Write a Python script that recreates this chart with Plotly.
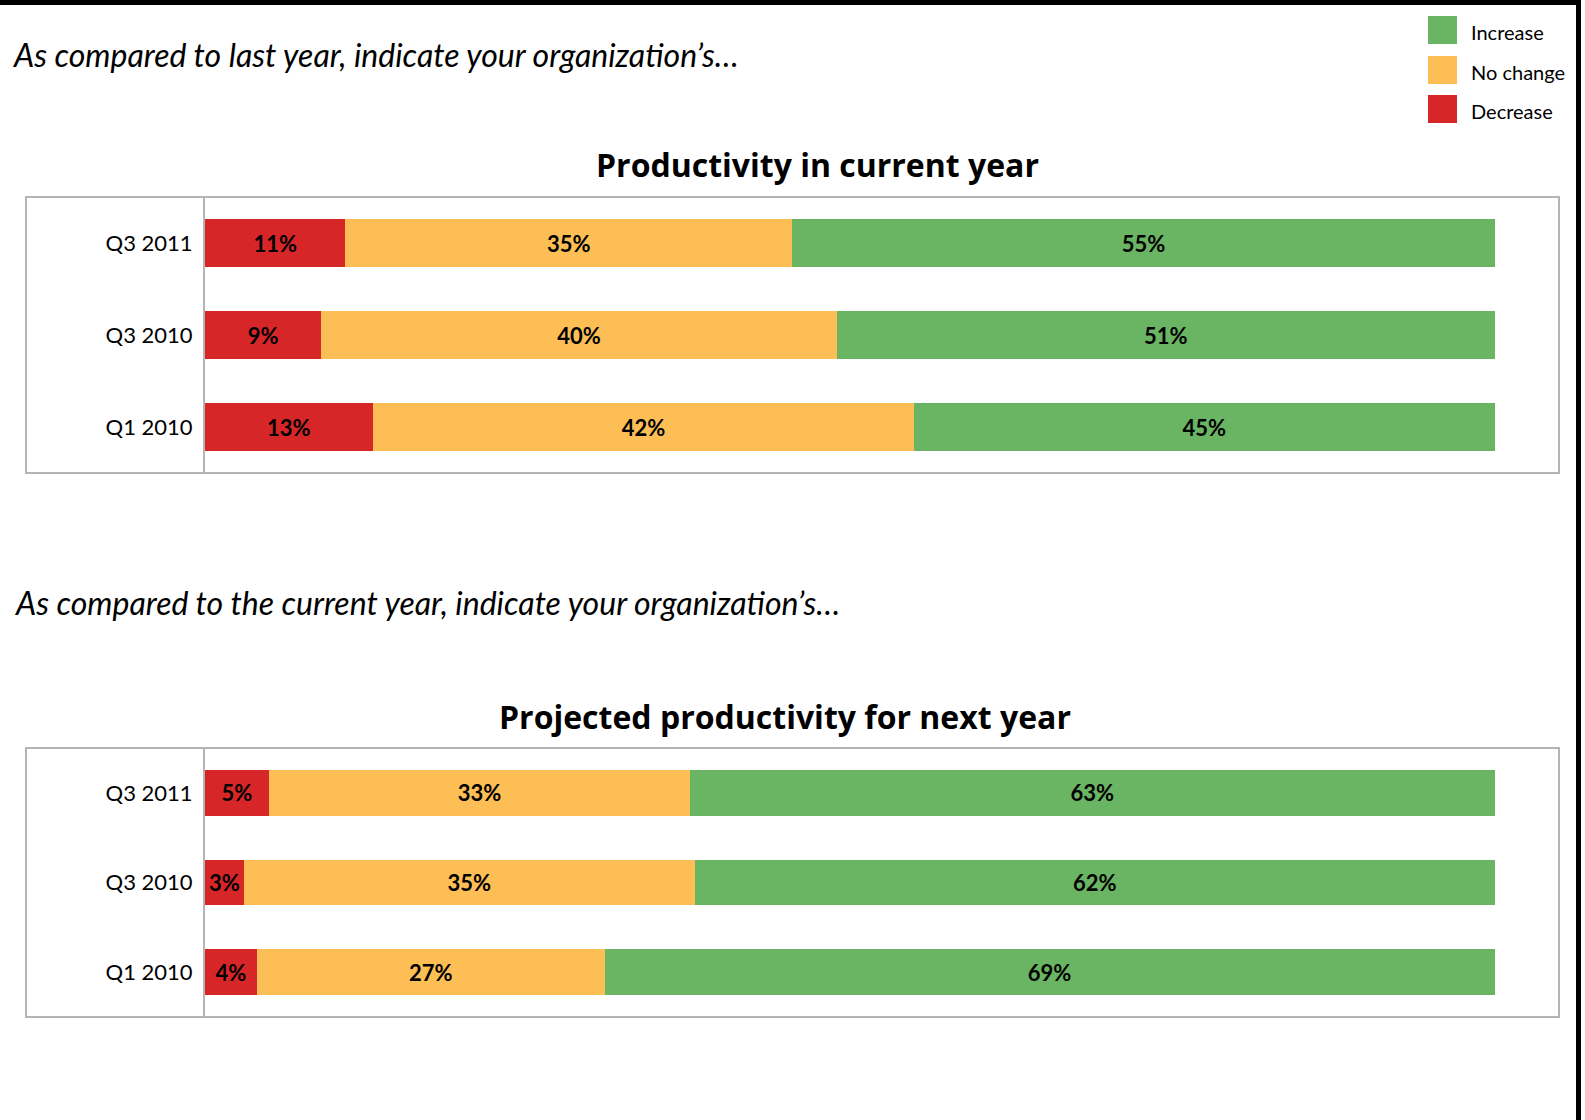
import plotly.graph_objects as go

W, H = 1585, 1120

categories = ["Q3 2011", "Q3 2010", "Q1 2010"]
series_names = ["Decrease", "No change", "Increase"]
colors = ["#D72627", "#FDBE56", "#6AB563"]

current_decrease = [11, 9, 13]
current_nochange = [35, 40, 42]
current_increase = [55, 51, 45]

next_decrease = [5, 3, 4]
next_nochange = [33, 35, 27]
next_increase = [63, 62, 69]

title_current = "Productivity in current year"
title_next = "Projected productivity for next year"
subtitle_current = "As compared to last year, indicate your organization\u2019s\u2026"
subtitle_next = "As compared to the current year, indicate your organization\u2019s\u2026"

FONT = "Lato"
TFONT = "Open Sans"

def px(x):
    return x / W

def py(y):
    return 1 - y / H

fig = go.Figure()

panels = [
    ([current_decrease, current_nochange, current_increase], "x", "y", 0.52),
    ([next_decrease, next_nochange, next_increase], "x2", "y2", 0.51),
]

for vals, xa, ya, bw in panels:
    for name, col, v in zip(series_names, colors, vals):
        fig.add_trace(go.Bar(
            y=categories, x=v, name=name, orientation="h",
            marker=dict(color=col, line=dict(width=0)),
            width=bw,
            text=[f"{a}%" for a in v],
            textposition="inside", insidetextanchor="middle",
            textfont=dict(family=FONT, size=22, color="black", weight="bold"),
            xaxis=xa, yaxis=ya, showlegend=False,
        ))

xdom = [px(205), px(1559)]
common_x = dict(domain=xdom, range=[0, 105], showgrid=False, showticklabels=False,
                zeroline=False, showline=False, fixedrange=True)
common_y = dict(autorange="reversed", showgrid=False, zeroline=False,
                showline=True, linecolor="#B4B4B4", linewidth=2,
                tickfont=dict(family=FONT, size=22, color="black"),
                ticks="", ticklabelstandoff=6)

fig.update_layout(
    width=W, height=H,
    margin=dict(l=0, r=0, t=0, b=0),
    paper_bgcolor="white", plot_bgcolor="white",
    barmode="stack", barnorm="percent",
    xaxis=dict(**common_x, anchor="y"),
    yaxis=dict(**common_y, domain=[py(473), py(197)], anchor="x"),
    xaxis2=dict(**common_x, anchor="y2"),
    yaxis2=dict(**common_y, domain=[py(1017), py(748)], anchor="x2"),
    showlegend=False,
)

shapes = []
# panel boxes
for top, bot in [(197, 473), (748, 1017)]:
    shapes.append(dict(type="rect", xref="paper", yref="paper",
                       x0=px(26), x1=px(1559), y0=py(bot), y1=py(top),
                       line=dict(color="#B4B4B4", width=2), layer="below"))
# black frame top and right
shapes.append(dict(type="rect", xref="paper", yref="paper",
                   x0=0, x1=px(1581), y0=py(5), y1=1,
                   fillcolor="black", line=dict(width=0)))
shapes.append(dict(type="rect", xref="paper", yref="paper",
                   x0=px(1576), x1=px(1581), y0=0, y1=1,
                   fillcolor="black", line=dict(width=0)))

annotations = []
# custom legend (Increase, No change, Decrease from top)
leg_y = [30, 70, 109]
for i, idx in enumerate([2, 1, 0]):
    yc = leg_y[i]
    shapes.append(dict(type="rect", xref="paper", yref="paper",
                       x0=px(1428), x1=px(1457), y0=py(yc + 14), y1=py(yc - 14),
                       fillcolor=colors[idx], line=dict(width=0)))
    annotations.append(dict(x=px(1469), y=py(yc + 2), xref="paper", yref="paper",
                            text=series_names[idx], showarrow=False,
                            xanchor="left", yanchor="middle",
                            font=dict(family=FONT, size=20, color="black")))

annotations += [
    dict(x=px(817), y=py(164), xref="paper", yref="paper", text=title_current,
         showarrow=False, xanchor="center", yanchor="middle",
         font=dict(family=TFONT, size=32, color="black", weight="bold")),
    dict(x=px(785), y=py(716), xref="paper", yref="paper", text=title_next,
         showarrow=False, xanchor="center", yanchor="middle",
         font=dict(family=TFONT, size=32, color="black", weight="bold")),
    dict(x=px(10), y=py(54), xref="paper", yref="paper", text=subtitle_current,
         showarrow=False, xanchor="left", yanchor="middle",
         font=dict(family=FONT, size=32, color="black", style="italic")),
    dict(x=px(12), y=py(602), xref="paper", yref="paper", text=subtitle_next,
         showarrow=False, xanchor="left", yanchor="middle",
         font=dict(family=FONT, size=32, color="black", style="italic")),
]

fig.update_layout(shapes=shapes, annotations=annotations)
fig.write_html("out.html")
